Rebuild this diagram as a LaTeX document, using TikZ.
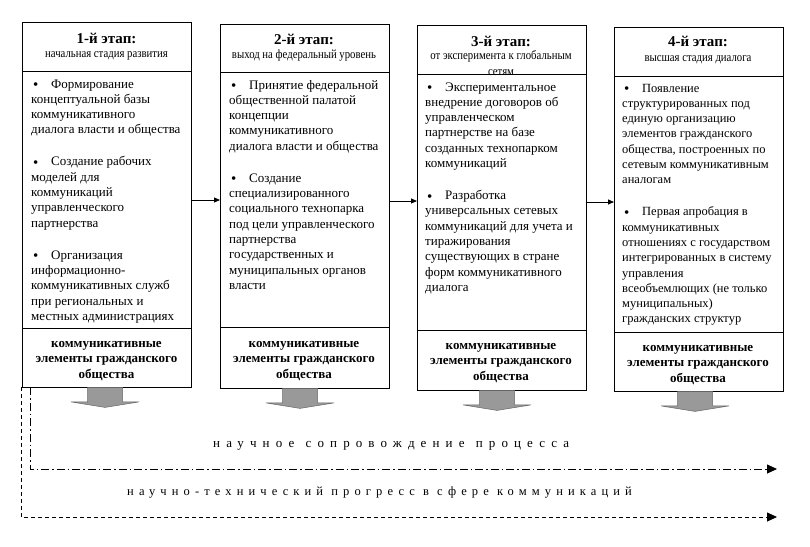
\documentclass[tikz,border=0pt]{standalone}
\usepackage{fontspec}
\setmainfont{Liberation Serif}
\newfontfamily\condfont[FakeStretch=0.86]{Liberation Serif}
\newfontfamily\spacedA[LetterSpace=47]{Liberation Serif}
\newfontfamily\spacedB[LetterSpace=41]{Liberation Serif}
\usetikzlibrary{arrows.meta}
\newcommand\itm{\hspace*{2pt}\makebox[18pt][l]{\raisebox{-1.6pt}{\fontsize{15}{15}\selectfont\textbullet}}}
\newcommand\blockarr[2]{\filldraw[blockarrow] (#1-17.5,#2) -- (#1-17.5,#2+14.5) -- (#1-34,#2+14.5) -- (#1,#2+20) -- (#1+34,#2+14.5) -- (#1+17.5,#2+14.5) -- (#1+17.5,#2) -- cycle;}
\begin{document}
\begin{tikzpicture}[x=1pt,y=-1pt,
  stagebox/.style={draw, line width=0.8pt, minimum width=169pt, anchor=north west, inner sep=0pt, outer sep=0pt},
  divider/.style={line width=0.8pt},
  headtitle/.style={anchor=base, inner sep=0pt, font=\fontsize{15}{17}\selectfont\bfseries},
  subtitle/.style={anchor=base, inner sep=0pt, font=\fontsize{12.5}{16}\selectfont\condfont},
  bodytext/.style={anchor=base west, inner sep=0pt, font=\fontsize{13}{15.3}\selectfont},
  bodytextsmall/.style={anchor=base west, inner sep=0pt, font=\fontsize{12.5}{15.3}\selectfont},
  bottomtext/.style={anchor=base, inner sep=0pt, font=\fontsize{13}{15.5}\selectfont\bfseries},
  conn/.style={line width=0.8pt, -{Triangle[length=6pt,width=5pt]}},
  blockarrow/.style={fill=black!40, draw=black!60, line width=0.5pt},
  dashdotline/.style={line width=0.8pt, dash pattern=on 8pt off 3pt on 1.5pt off 3pt, -{Triangle[length=10pt,width=9pt]}},
  dashline/.style={line width=0.8pt, dash pattern=on 4pt off 3pt, -{Triangle[length=10pt,width=9pt]}},
  label/.style={anchor=base west, inner sep=0pt}
]
\useasboundingbox (0,0) rectangle (810,546);
\fill[white] (0,0) rectangle (810,546);

% stage boxes
\node[stagebox, minimum height=365pt] (b1) at (22,22) {};
\node[stagebox, minimum height=364pt] (b2) at (220,24) {};
\node[stagebox, minimum height=365pt] (b3) at (417,25) {};
\node[stagebox, minimum height=364pt] (b4) at (614,27) {};

% dividers
\draw[divider] ([yshift=-49pt]b1.north west) -- ([yshift=-49pt]b1.north east);
\draw[divider] ([yshift=-306pt]b1.north west) -- ([yshift=-306pt]b1.north east);
\draw[divider] ([yshift=-48pt]b2.north west) -- ([yshift=-48pt]b2.north east);
\draw[divider] ([yshift=-303pt]b2.north west) -- ([yshift=-303pt]b2.north east);
\draw[divider] ([yshift=-49pt]b3.north west) -- ([yshift=-49pt]b3.north east);
\draw[divider] ([yshift=-305pt]b3.north west) -- ([yshift=-305pt]b3.north east);
\draw[divider] ([yshift=-49pt]b4.north west) -- ([yshift=-49pt]b4.north east);
\draw[divider] ([yshift=-305pt]b4.north west) -- ([yshift=-305pt]b4.north east);

% headers
\node[headtitle] (h1) at (106.5,43) {1-й этап:};
\node[subtitle] (s1) at (106.5,57) {начальная стадия развития};
\node[headtitle] (h2) at (304,44) {2-й этап:};
\node[subtitle] (s2) at (304,58) {выход на федеральный уровень};
\node[headtitle] (h3) at (501,46) {3-й этап:};
\node[subtitle] (s3) at (501,59) {\parbox[t]{168pt}{\centering от эксперимента к глобальным\\ сетям}};
\node[headtitle] (h4) at (698,46) {4-й этап:};
\node[subtitle] (s4) at (698,61) {высшая стадия диалога};

% bodies
\node[bodytext] (t1) at (31,88) {\parbox[t]{200pt}{\raggedright
\itm Формирование\\ концептуальной базы\\ коммуникативного\\ диалога власти и общества\\[16.7pt]
\itm Создание рабочих\\ моделей для\\ коммуникаций\\ управленческого\\ партнерства\\[16.7pt]
\itm Организация\\ информационно-\\ коммуникативных служб\\ при региональных и\\ местных администрациях}};
\node[bodytext] (t2) at (229,89) {\parbox[t]{200pt}{\raggedright
\itm Принятие федеральной\\ общественной палатой\\ концепции\\ коммуникативного\\ диалога власти и общества\\[16.7pt]
\itm Создание\\ специализированного\\ социального технопарка\\ под цели управленческого\\ партнерства\\ государственных и\\ муниципальных органов\\ власти}};
\node[bodytext] (t3) at (425,91) {\parbox[t]{200pt}{\raggedright
\itm Экспериментальное\\ внедрение договоров об\\ управленческом\\ партнерстве на базе\\ созданных технопарком\\ коммуникаций\\[16.7pt]
\itm Разработка\\ универсальных сетевых\\ коммуникаций для учета и\\ тиражирования\\ существующих в стране\\ форм коммуникативного\\ диалога}};
\node[bodytextsmall] (t4) at (622,92) {\parbox[t]{200pt}{\raggedright
\itm Появление\\ структурированных под\\ единую организацию\\ элементов гражданского\\ общества, построенных по\\ сетевым коммуникативным\\ аналогам\\[16.7pt]
\itm Первая апробация в\\ коммуникативных\\ отношениях с государством\\ интегрированных в систему\\ управления\\ всеобъемлющих (не только\\ муниципальных)\\ гражданских структур}};

% bottom sections
\node[bottomtext] (c1) at (106.5,347) {\parbox[t]{168pt}{\centering коммуникативные\\ элементы гражданского\\ общества}};
\node[bottomtext] (c2) at (304,347) {\parbox[t]{168pt}{\centering коммуникативные\\ элементы гражданского\\ общества}};
\node[bottomtext] (c3) at (501,349) {\parbox[t]{168pt}{\centering коммуникативные\\ элементы гражданского\\ общества}};
\node[bottomtext] (c4) at (698,351) {\parbox[t]{168pt}{\centering коммуникативные\\ элементы гражданского\\ общества}};

% connectors between stages
\coordinate (a12) at ([yshift=4.5pt]b1.east);
\coordinate (a23) at ([yshift=5pt]b2.east);
\coordinate (a34) at ([yshift=5.5pt]b3.east);
\draw[conn] (a12) -- (a12 -| b2.west);
\draw[conn] (a23) -- (a23 -| b3.west);
\draw[conn] (a34) -- (a34 -| b4.west);

% gray block arrows
\blockarr{105}{387.4}
\blockarr{300}{388.4}
\blockarr{497}{390.4}
\blockarr{695}{391.4}

% process lines
\coordinate (dd0) at ([xshift=8pt]b1.south west);
\coordinate (ddE) at (777,469);
\coordinate (ds0) at ([xshift=-1pt]b1.south west);
\coordinate (dsE) at (777,517);
\draw[dashdotline] (dd0) |- (ddE);
\draw[dashline] (ds0) |- (dsE);

\node[label, font=\fontsize{13}{15}\selectfont\spacedA] (l1) at (213,447) {научное\hspace{2pt} сопровождение\hspace{2pt} процесса};
\node[label, font=\fontsize{12.5}{15}\selectfont\spacedB] (l2) at (127,495) {научно-технический прогресс в сфере коммуникаций};
\end{tikzpicture}
\end{document}
